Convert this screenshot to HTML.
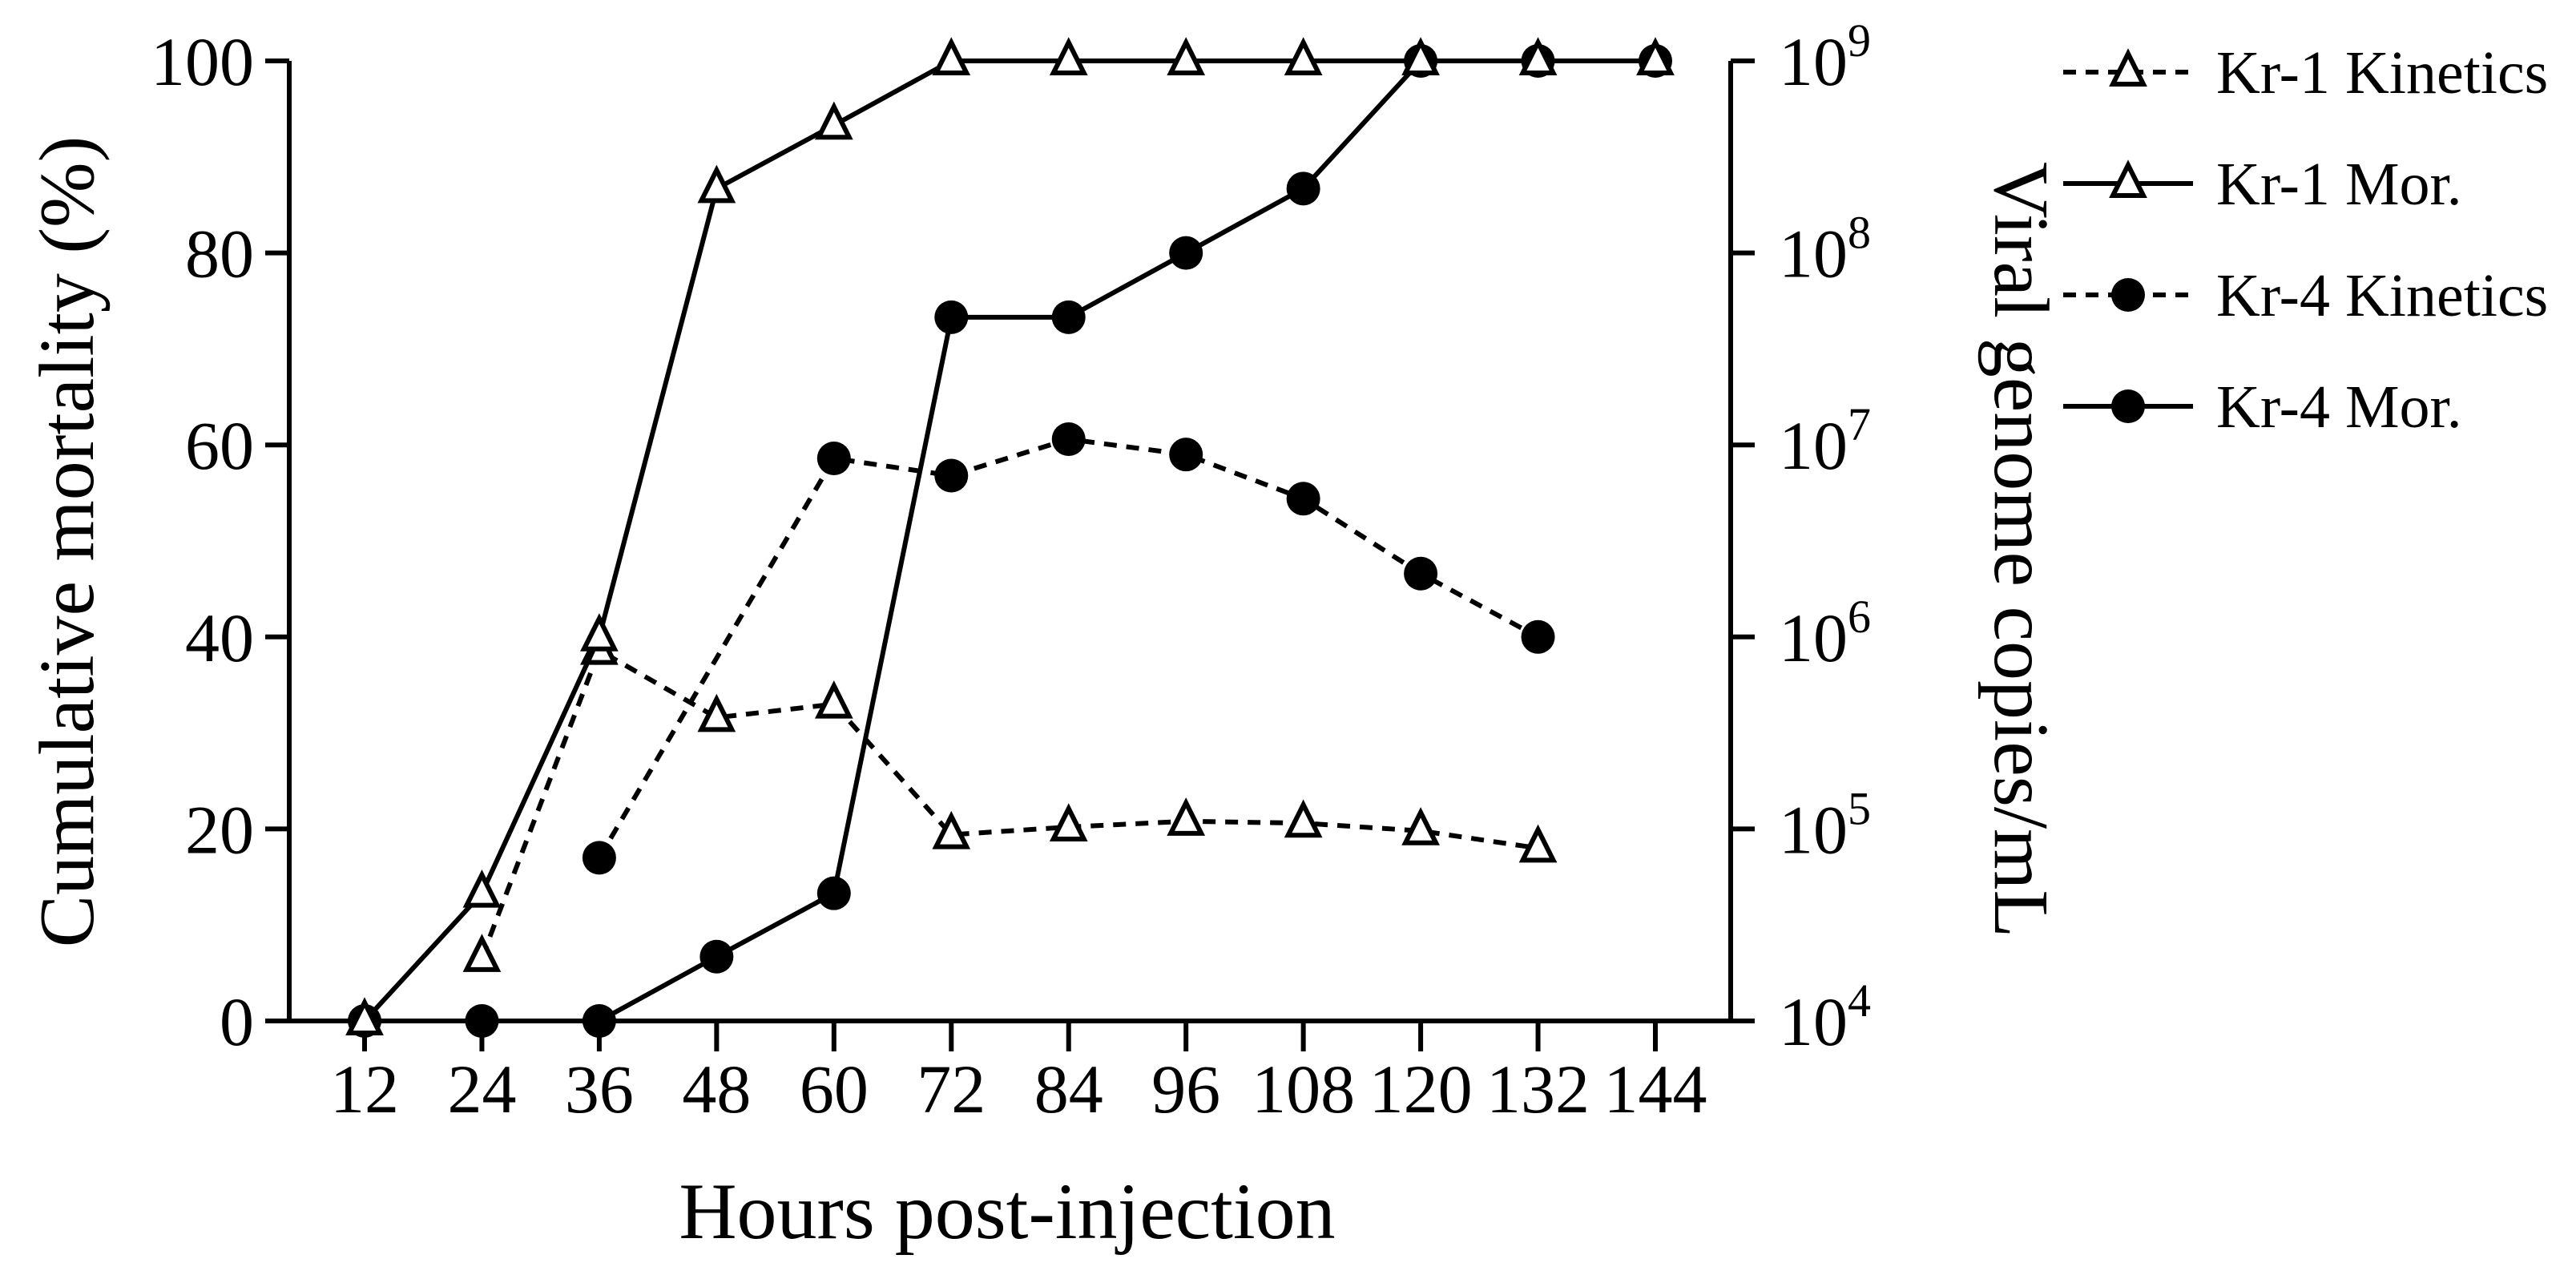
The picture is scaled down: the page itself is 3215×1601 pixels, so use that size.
<!DOCTYPE html>
<html><head><meta charset="utf-8"><style>
html,body{margin:0;padding:0;background:#fff;}
svg{display:block;font-family:"Liberation Serif",serif;}
</style></head><body>
<svg id="chart" width="3215" height="1601" viewBox="0 0 3215 1601" xmlns="http://www.w3.org/2000/svg">
<g id="axes"></g>
<g id="series"></g>
<g id="legend"></g>
<text x="1257" y="1545" font-size="100" text-anchor="middle">Hours post-injection</text>
<text transform="translate(116,676) rotate(-90)" font-size="98" text-anchor="middle">Cumulative mortality  (%)</text>
<text transform="translate(2490,686) rotate(90)" font-size="98" text-anchor="middle">Viral genome copies/mL</text>
</svg>
<script>
const hours = [12,24,36,48,60,72,84,96,108,120,132,144];
const leftTicks = [0,20,40,60,80,100];
const rightTickExps = [4,5,6,7,8,9];
const kr1Mor = [0,13.3,40,86.7,93.3,100,100,100,100,100,100,100];
const kr4Mor = [0,0,0,6.7,13.3,73.3,73.3,80,86.7,100,100,100];
const kr1KinHours = [24,36,48,60,72,84,96,108,120,132];
const kr1KinLog = [4.33,5.93,5.58,5.65,4.97,5.01,5.04,5.03,4.99,4.90];
const kr4KinHours = [36,60,72,84,96,108,120,132];
const kr4KinLog = [4.85,6.93,6.84,7.03,6.95,6.72,6.33,6.0];

const NS="http://www.w3.org/2000/svg";
const L=361,R=2160,T=76,B=1274;
const xs=h=>455+(h-12)*(2066-455)/132;
const yL=v=>B-v*(B-T)/100;
const yR=e=>B-(e-4)*(B-T)/5;
function mk(tag,attrs,parent){const e=document.createElementNS(NS,tag);for(const k in attrs)e.setAttribute(k,attrs[k]);parent.appendChild(e);return e;}
const axes=document.getElementById('axes'),ser=document.getElementById('series'),leg=document.getElementById('legend');
const sw=6;
let a=mk('path',{d:`M${L},${T}V${B}H${R}V${T}`,fill:'none',stroke:'#000','stroke-width':sw},axes);


leftTicks.forEach(v=>{
  let t=mk('line',{x1:L-30,x2:L,y1:yL(v),y2:yL(v),stroke:'#000','stroke-width':sw},axes);
  
  
  let tx=mk('text',{x:L-44,y:yL(v)+30,'font-size':86,'text-anchor':'end'},axes);tx.textContent=v;
  
  
});
rightTickExps.forEach(e=>{
  let t=mk('line',{x1:R,x2:R+30,y1:yR(e),y2:yR(e),stroke:'#000','stroke-width':sw},axes);
  
  
  let tx=mk('text',{x:R+60,y:yR(e)+30,'font-size':86},axes);
  
  
  tx.textContent='10';
  let s=mk('tspan',{dy:-36,'font-size':58},tx);s.textContent=e;
});
hours.forEach(h=>{
  let t=mk('line',{x1:xs(h),x2:xs(h),y1:B,y2:B+38,stroke:'#000','stroke-width':sw},axes);
  
  
  let tx=mk('text',{x:xs(h),y:B+114,'font-size':86,'text-anchor':'middle'},axes);tx.textContent=h;
  
  
});
function marker(type,x,y,g){
  if(type==='tri'){return mk('path',{d:`M${x},${y-23}L${x+19},${y+15}L${x-19},${y+15}Z`,fill:'#fff',stroke:'#000','stroke-width':6},g);}
  return mk('circle',{cx:x,cy:y,r:21,fill:'#000'},g);
}
function series(name,xsArr,ysArr,yf,dash,type){
  const g=mk('g',{},ser);
  
  
  const pts=xsArr.map((h,i)=>[xs(h),yf(ysArr[i])]);
  let p=mk('polyline',{points:pts.map(p=>p.join(',')).join(' '),fill:'none',stroke:'#000','stroke-width':sw,'stroke-dasharray':dash?'16,12':'none'},g);
  
  
  pts.forEach(q=>{let m=marker(type,q[0],q[1],g);
    
    });
}
series('kr4-kinetics',kr4KinHours,kr4KinLog,yR,true,'dot');
series('kr1-kinetics',kr1KinHours,kr1KinLog,yR,true,'tri');
series('kr4-mortality',hours,kr4Mor,yL,false,'dot');
series('kr1-mortality',hours,kr1Mor,yL,false,'tri');
const legItems=[['Kr-1 Kinetics',true,'tri'],['Kr-1 Mor.',false,'tri'],['Kr-4 Kinetics',true,'dot'],['Kr-4 Mor.',false,'dot']];
legItems.forEach((it,i)=>{
  const y=90+i*139;
  const g=mk('g',{},leg);
  
  
  mk('line',{x1:2575,x2:2737,y1:y,y2:y,stroke:'#000','stroke-width':sw,'stroke-dasharray':it[1]?'16,12':'none'},g);
  marker(it[2],2656,y,g);
  let t=mk('text',{x:2766,y:y+26,'font-size':76},g);t.textContent=it[0];
});
</script>
</body></html>
